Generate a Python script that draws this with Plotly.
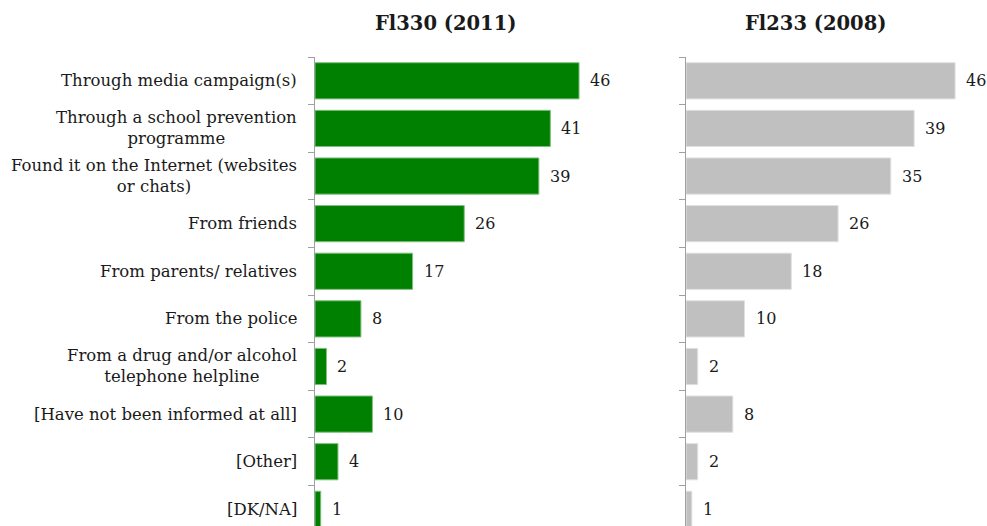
import plotly.graph_objects as go

categories = [
    "Through media campaign(s)",
    "Through a school prevention<br>programme",
    "Found it on the Internet (websites<br>or chats)",
    "From friends",
    "From parents/ relatives",
    "From the police",
    "From a drug and/or alcohol<br>telephone helpline",
    "[Have not been informed at all]",
    "[Other]",
    "[DK/NA]",
]
values_2011 = [46, 41, 39, 26, 17, 8, 2, 10, 4, 1]
values_2008 = [46, 39, 35, 26, 18, 10, 2, 8, 2, 1]
title_2011 = "Fl330 (2011)"
title_2008 = "Fl233 (2008)"

FONT = "Georgia, DejaVu Serif, serif"
W, H = 987, 526

fig = go.Figure()
fig.add_trace(go.Bar(y=categories, x=values_2011, orientation="h", xaxis="x", yaxis="y",
                     marker=dict(color="#008000", line=dict(color="#7fbf7f", width=1)),
                     width=0.76, hoverinfo="x+y"))
fig.add_trace(go.Bar(y=categories, x=values_2008, orientation="h", xaxis="x2", yaxis="y2",
                     marker=dict(color="#c0c0c0", line=dict(color="#e0e0e0", width=1)),
                     width=0.76, hoverinfo="x+y"))

yax = dict(type="category", range=[9.35, -0.5], showticklabels=False, ticks="outside",
           tickson="boundaries", ticklen=6, tickcolor="#a0a0a0", showline=True,
           linecolor="#a0a0a0", linewidth=1, showgrid=False, zeroline=False, fixedrange=True)
xax = dict(range=[0, 50], visible=False, fixedrange=True)

ann = []
for c in categories:
    ann.append(dict(x=299 / W, xref="paper", y=c, yref="y", text=c, showarrow=False,
                    xanchor="right", yanchor="middle", align="center",
                    font=dict(family=FONT, size=16.5, color="#1a1a1a")))
for c, v in zip(categories, values_2011):
    ann.append(dict(x=v, xref="x", y=c, yref="y", text=str(v), showarrow=False,
                    xanchor="left", yanchor="middle", xshift=9,
                    font=dict(family=FONT, size=16, color="#1a1a1a")))
for c, v in zip(categories, values_2008):
    ann.append(dict(x=v, xref="x2", y=c, yref="y2", text=str(v), showarrow=False,
                    xanchor="left", yanchor="middle", xshift=9,
                    font=dict(family=FONT, size=16, color="#1a1a1a")))
ann.append(dict(x=445 / W, xref="paper", y=1, yref="paper", yshift=34, text="<b>%s</b>" % title_2011,
                showarrow=False, xanchor="center", yanchor="middle",
                font=dict(family=FONT, size=19.5, color="#1a1a1a")))
ann.append(dict(x=815 / W, xref="paper", y=1, yref="paper", yshift=34, text="<b>%s</b>" % title_2008,
                showarrow=False, xanchor="center", yanchor="middle",
                font=dict(family=FONT, size=19.5, color="#1a1a1a")))

fig.update_layout(
    width=W, height=H,
    margin=dict(l=0, r=0, t=57, b=0),
    paper_bgcolor="white", plot_bgcolor="white",
    showlegend=False,
    xaxis=dict(domain=[315 / W, 602 / W], anchor="y", **xax),
    xaxis2=dict(domain=[686 / W, 978.5 / W], anchor="y2", **xax),
    yaxis=dict(anchor="x", **yax),
    yaxis2=dict(anchor="x2", **yax),
    annotations=ann,
    font=dict(family=FONT),
)

fig.write_html("out.html", config={"displayModeBar": False},
               post_script="document.body.style.margin='0';document.body.style.overflow='hidden';")
